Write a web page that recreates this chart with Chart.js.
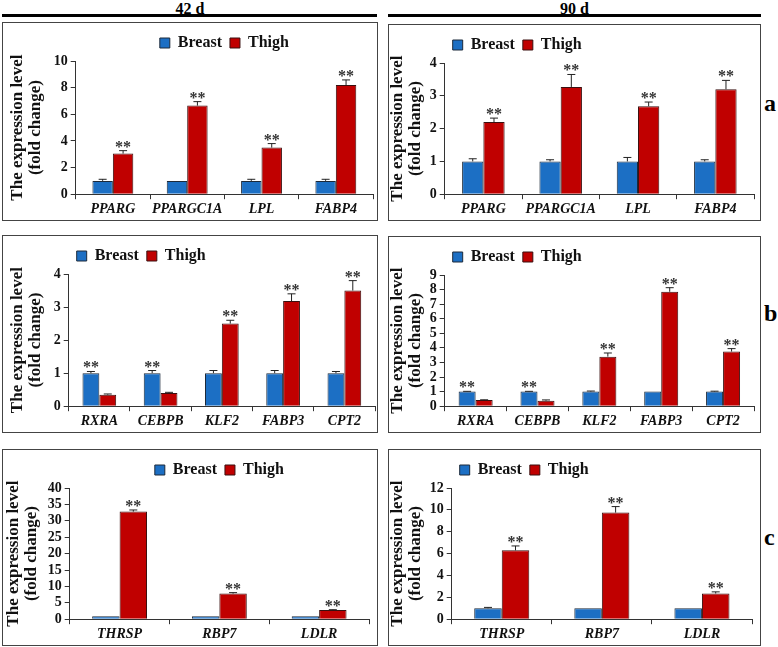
<!DOCTYPE html>
<html lang="en">
<head>
<meta charset="UTF-8">
<title>Expression level - Breast vs Thigh</title>
<script src="https://cdn.jsdelivr.net/npm/chart.js"></script>
<style>
    body { margin: 0; background: #fff; width: 778px; height: 647px; position: relative; overflow: hidden;
           font-family: "Liberation Serif", serif; }
    .panel { position: absolute; border: 1px solid #444; box-sizing: border-box; }
    .head { position: absolute; top: 0; font-weight: bold; font-size: 16px; text-align: center; }
    .rule { position: absolute; top: 14px; height: 3px; background: #000; }
    .tag { position: absolute; left: 764px; font-weight: bold; font-size: 24px; }
</style>
</head>
<body>
    <div class="head" style="left:2px;width:376px;">42 d</div>
    <div class="head" style="left:388px;width:373px;">90 d</div>
    <div class="rule" style="left:2px;width:375px;"></div>
    <div class="rule" style="left:388px;width:373px;"></div>

    <div class="panel" style="left:2px;top:22px;width:376px;height:199px;"><canvas id="a42"></canvas></div>
    <div class="panel" style="left:388px;top:24px;width:373px;height:197px;"><canvas id="a90"></canvas></div>
    <div class="panel" style="left:2px;top:235px;width:376px;height:198px;"><canvas id="b42"></canvas></div>
    <div class="panel" style="left:388px;top:236px;width:373px;height:197px;"><canvas id="b90"></canvas></div>
    <div class="panel" style="left:2px;top:449px;width:376px;height:197px;"><canvas id="c42"></canvas></div>
    <div class="panel" style="left:388px;top:449px;width:373px;height:197px;"><canvas id="c90"></canvas></div>

    <div class="tag" style="top:90px;">a</div>
    <div class="tag" style="top:300px;">b</div>
    <div class="tag" style="top:524px;">c</div>

<script>
// --- data ---
const genesA = ['PPARG', 'PPARGC1A', 'LPL', 'FABP4'];
const genesB = ['RXRA', 'CEBPB', 'KLF2', 'FABP3', 'CPT2'];
const genesC = ['THRSP', 'RBP7', 'LDLR'];

// panel a, 42 d
const breastA42 = [1, 1, 1, 1];
const breastErrA42 = [0.12, 0, 0.12, 0.12];
const thighA42 = [3.05, 6.65, 3.5, 8.2];
const thighErrA42 = [0.22, 0.3, 0.3, 0.38];
const starsA42 = ['T', 'T', 'T', 'T'];

// panel a, 90 d
const breastA90 = [1, 1, 1, 1];
const breastErrA90 = [0.08, 0.05, 0.12, 0.05];
const thighA90 = [2.2, 3.27, 2.68, 3.2];
const thighErrA90 = [0.12, 0.38, 0.13, 0.27];
const starsA90 = ['T', 'T', 'T', 'T'];

// panel b, 42 d
const breastB42 = [1, 1, 1, 1, 1];
const breastErrB42 = [0.05, 0.08, 0.08, 0.08, 0.05];
const thighB42 = [0.35, 0.4, 2.5, 3.18, 3.5];
const thighErrB42 = [0.02, 0.02, 0.1, 0.22, 0.3];
const starsB42 = ['B', 'B', 'T', 'T', 'T'];

// panel b, 90 d
const breastB90 = [1, 1, 1, 1, 1];
const breastErrB90 = [0.02, 0.02, 0.04, 0, 0.03];
const thighB90 = [0.42, 0.38, 3.4, 7.85, 3.75];
const thighErrB90 = [0.02, 0.05, 0.25, 0.28, 0.2];
const starsB90 = ['B', 'B', 'T', 'T', 'T'];

// panel c, 42 d
const breastC42 = [0.9, 0.9, 0.9];
const breastErrC42 = [0, 0, 0];
const thighC42 = [32.8, 7.8, 2.8];
const thighErrC42 = [0.5, 0.3, 0.1];
const starsC42 = ['T', 'T', 'T'];

// panel c, 90 d
const breastC90 = [1, 1, 1];
const breastErrC90 = [0.08, 0, 0];
const thighC90 = [6.3, 9.75, 2.35];
const thighErrC90 = [0.4, 0.55, 0.15];
const starsC90 = ['T', 'T', 'T'];

const serif = '"Liberation Serif", "Times New Roman", serif';

// error bars + ** markers
const errorBars = {
    id: 'errorBars',
    afterDatasetsDraw(chart) {
        const ctx = chart.ctx;
        const y = chart.scales.y;
        const stars = chart.options.plugins.errorBars.stars;
        chart.data.datasets.forEach((ds, i) => {
            const meta = chart.getDatasetMeta(i);
            meta.data.forEach((bar, j) => {
                const v = ds.data[j];
                const e = ds.errors[j];
                const top = y.getPixelForValue(v + e);
                ctx.save();
                ctx.strokeStyle = '#222';
                ctx.lineWidth = 1;
                if (e > 0) {
                    ctx.beginPath();
                    ctx.moveTo(bar.x, bar.y);
                    ctx.lineTo(bar.x, top);
                    ctx.moveTo(bar.x - 4, top);
                    ctx.lineTo(bar.x + 4, top);
                    ctx.stroke();
                }
                if (stars[j] === ds.tag) {
                    ctx.fillStyle = '#333';
                    ctx.font = 'bold 16px ' + serif;
                    ctx.textAlign = 'center';
                    ctx.textBaseline = 'alphabetic';
                    ctx.fillText('**', bar.x, top + 1);
                }
                ctx.restore();
            });
        });
    }
};

function makeChart(id, cats, breast, breastErr, thigh, thighErr, stars, yMax, yStep, legendAlign, pad, titleGap) {
    new Chart(document.getElementById(id), {
        type: 'bar',
        data: {
            labels: cats,
            datasets: [
                { label: 'Breast', tag: 'B', data: breast, errors: breastErr,
                  backgroundColor: '#1c6fc4', borderColor: '#1d2a3a', borderWidth: 1,
                  barPercentage: 1, categoryPercentage: 0.55 },
                { label: 'Thigh', tag: 'T', data: thigh, errors: thighErr,
                  backgroundColor: '#c00000', borderColor: '#3a1010', borderWidth: 1,
                  barPercentage: 1, categoryPercentage: 0.55 }
            ]
        },
        options: {
            responsive: true,
            maintainAspectRatio: false,
            animation: false,
            layout: { padding: pad },
            plugins: {
                legend: {
                    display: true,
                    fullSize: false,
                    align: legendAlign,
                    labels: {
                        boxWidth: 10, boxHeight: 10, padding: 8,
                        color: '#111',
                        font: { family: serif, size: 16, weight: 'bold' }
                    }
                },
                tooltip: { enabled: false },
                errorBars: { stars: stars }
            },
            scales: {
                x: {
                    grid: { display: true, drawOnChartArea: false, tickLength: 5, color: '#333', offset: true },
                    border: { color: '#333' },
                    ticks: { color: '#111', padding: 2, autoSkip: false, maxRotation: 0, minRotation: 0,
                             font: { family: serif, size: 14, weight: 'bold', style: 'italic' } }
                },
                y: {
                    min: 0, max: yMax,
                    grid: { display: true, drawOnChartArea: false, tickLength: 5, color: '#333' },
                    border: { color: '#333' },
                    ticks: { stepSize: yStep, autoSkip: false, color: '#111', padding: 3,
                             font: { family: serif, size: 14, weight: 'bold' } },
                    title: {
                        display: true,
                        text: ['The expression level', '(fold change)'],
                        color: '#111',
                        padding: { top: 0, bottom: titleGap },
                        font: { family: serif, size: 17, weight: 'bold', lineHeight: 1.05 }
                    }
                }
            }
        },
        plugins: [errorBars]
    });
}

makeChart('a42', genesA, breastA42, breastErrA42, thighA42, thighErrA42, starsA42, 10, 2, 'center', { left: 6, right: 4, top: 4, bottom: 0 }, 6);
makeChart('a90', genesA, breastA90, breastErrA90, thighA90, thighErrA90, starsA90, 4, 1, 'start', { left: 0, right: 6, top: 4, bottom: 0 }, 2);
makeChart('b42', genesB, breastB42, breastErrB42, thighB42, thighErrB42, starsB42, 4, 1, 'start', { left: 6, right: 2, top: 4, bottom: 0 }, 6);
makeChart('b90', genesB, breastB90, breastErrB90, thighB90, thighErrB90, starsB90, 9, 1, 'start', { left: 0, right: 6, top: 4, bottom: 0 }, 2);
makeChart('c42', genesC, breastC42, breastErrC42, thighC42, thighErrC42, starsC42, 40, 5, 'center', { left: 2, right: 8, top: 4, bottom: 0 }, 4);
makeChart('c90', genesC, breastC90, breastErrC90, thighC90, thighErrC90, starsC90, 12, 2, 'start', { left: 0, right: 8, top: 4, bottom: 0 }, 2);
</script>
</body>
</html>
